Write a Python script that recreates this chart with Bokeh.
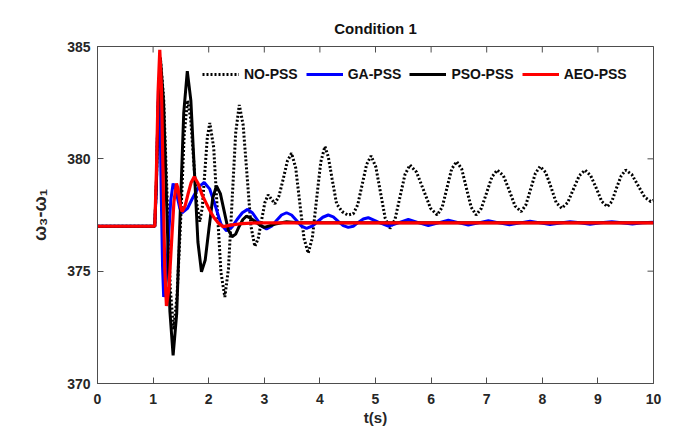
import math
from bokeh.plotting import figure
from bokeh.models import Range1d, FixedTicker, Legend, LegendItem
from bokeh.embed import file_html
from bokeh.resources import INLINE

title_text = "Condition 1"
x_label = "t(s)"
y_label = "ω₃-ω₁"
x_ticks = [0, 1, 2, 3, 4, 5, 6, 7, 8, 9, 10]
y_ticks = [370, 375, 380, 385]
series_names = ["NO-PSS", "GA-PSS", "PSO-PSS", "AEO-PSS"]

t_no = [0.00, 1.00, 1.03, 1.06, 1.09, 1.13,
        1.19, 1.25, 1.31, 1.37,
        1.43, 1.50, 1.56, 1.62,
        1.675, 1.73, 1.785, 1.84,
        1.885, 1.93, 1.975, 2.02,
        2.09, 2.155, 2.22, 2.29,
        2.355, 2.42, 2.485, 2.55,
        2.62, 2.69, 2.76, 2.83,
        2.89, 2.95, 3.01, 3.07,
        3.13, 3.19,
        3.265, 3.34, 3.415, 3.49,
        3.565, 3.64, 3.715, 3.79,
        3.865, 3.94, 4.015, 4.09,
        4.15, 4.22, 4.30, 4.40, 4.50, 4.60,
        4.68, 4.76, 4.84, 4.92,
        5.005, 5.09, 5.175, 5.26,
        5.35, 5.44, 5.53, 5.62,
        5.74, 5.865, 5.99, 6.11,
        6.20, 6.285, 6.37, 6.46,
        6.55, 6.635, 6.72, 6.81,
        6.905, 7.00, 7.095, 7.19,
        7.30, 7.405, 7.51, 7.62,
        7.705, 7.79, 7.875, 7.96,
        8.06, 8.155, 8.25, 8.35,
        8.455, 8.56, 8.665, 8.77,
        8.87, 8.97, 9.07, 9.17,
        9.25, 9.335, 9.42, 9.50,
        9.61, 9.725, 9.84, 9.95, 10.0]
v_no = [377.0, 377.0, 377.0, 379.0, 382.3, 384.5,
        382.7, 378.45, 374.2, 372.4,
        373.9, 377.5, 381.1, 382.6,
        381.8, 379.9, 378.0, 377.2,
        377.85, 379.4, 380.95, 381.6,
        380.5, 377.7, 374.95, 373.85,
        375.1, 378.1, 381.15, 382.4,
        381.5, 379.25, 377.0, 376.1,
        376.45, 377.25, 378.05, 378.4,
        378.2, 378.0,
        378.35, 379.1, 379.9, 380.25,
        379.6, 378.0, 376.45, 375.8,
        376.5, 378.2, 379.85, 380.55,
        380.1, 379.1, 378.0, 377.65, 377.5, 377.55,
        377.95, 378.85, 379.75, 380.13,
        379.65, 378.5, 377.35, 376.9,
        377.3, 378.3, 379.3, 379.73,
        379.4, 378.6, 377.8, 377.5,
        377.85, 378.7, 379.55, 379.88,
        379.55, 378.7, 377.85, 377.5,
        377.8, 378.5, 379.2, 379.5,
        379.25, 378.6, 377.9, 377.65,
        377.95, 378.65, 379.35, 379.66,
        379.4, 378.75, 378.05, 377.8,
        378.05, 378.65, 379.25, 379.5,
        379.25, 378.7, 378.1, 377.87,
        378.1, 378.7, 379.25, 379.5,
        379.3, 378.8, 378.3, 378.1, 378.15]

t_ga = [0.0, 1.0, 1.03, 1.06, 1.08, 1.10,
        1.125, 1.145, 1.17, 1.19,
        1.2325, 1.275, 1.3175, 1.36,
        1.40, 1.44, 1.48, 1.52,
        1.62, 1.72, 1.82, 1.92,
        2.02, 2.12, 2.22, 2.32,
        2.415, 2.51, 2.605, 2.70,
        2.785, 2.87, 2.955, 3.04,
        3.13, 3.22, 3.31, 3.40,
        3.49, 3.58, 3.67, 3.76,
        3.8575, 3.955, 4.0525, 4.15,
        4.24, 4.33, 4.42, 4.51,
        4.60, 4.69, 4.78, 4.87,
        5.05, 5.23, 5.41, 5.59, 5.77, 5.95, 6.13, 6.31, 6.49, 6.67,
        6.85, 7.03, 7.22, 7.41, 7.60, 7.78, 7.96, 8.14, 8.32, 8.50,
        8.68, 8.86, 9.05, 9.25, 9.43, 9.62, 9.80, 10.0]
v_ga = [377.0, 377.0, 377.0, 378.8, 381.3, 383.4,
        381.9, 378.6, 375.2, 373.85,
        374.6, 376.4, 378.15, 378.9,
        378.7, 378.25, 377.8, 377.6,
        377.8, 378.3, 378.75, 378.95,
        378.65, 377.9, 377.1, 376.8,
        376.95, 377.3, 377.6, 377.75,
        377.6, 377.3, 377.0, 376.88,
        377.0, 377.25, 377.5, 377.6,
        377.5, 377.25, 377.0, 376.9,
        377.0, 377.2, 377.4, 377.5,
        377.42, 377.22, 377.03, 376.95,
        377.0, 377.17, 377.32, 377.38,
        377.18, 377.0, 377.15, 377.3, 377.16, 377.03, 377.15, 377.27, 377.16, 377.05,
        377.15, 377.24, 377.15, 377.07, 377.15, 377.22, 377.15, 377.08, 377.14, 377.2,
        377.15, 377.09, 377.15, 377.2, 377.15, 377.1, 377.15, 377.18]

t_pso = [0.0, 1.0, 1.03, 1.06, 1.09, 1.13,
         1.1875, 1.245, 1.3025, 1.36,
         1.424, 1.4875, 1.551, 1.615,
         1.679, 1.7425, 1.806, 1.87,
         1.9375, 2.005, 2.0725, 2.14,
         2.21, 2.28, 2.35, 2.42,
         2.485, 2.55, 2.615, 2.68,
         2.76, 2.84, 2.92, 3.0,
         3.2, 3.4, 3.6, 10.0]
v_pso = [377.0, 377.0, 377.0, 379.0, 382.3, 384.5,
         382.55, 377.9, 373.2, 371.25,
         373.1, 377.6, 382.05, 383.9,
         382.6, 379.45, 376.3, 374.97,
         375.5, 376.9, 378.25, 378.8,
         378.45, 377.65, 376.85, 376.53,
         376.65, 377.0, 377.3, 377.45,
         377.35, 377.2, 377.05, 376.95,
         377.1, 377.2, 377.15, 377.15]

t_aeo = [0.0, 1.0, 1.03, 1.06, 1.09, 1.12,
         1.15, 1.18, 1.21, 1.24,
         1.285, 1.33, 1.375, 1.42,
         1.445, 1.47, 1.495, 1.52,
         1.575, 1.63, 1.685, 1.74,
         1.81, 1.88, 1.95, 2.02, 2.09, 2.17, 2.26, 2.4, 2.6, 2.9, 10.0]
v_aeo = [377.0, 377.0, 377.0, 379.5, 383.0, 384.85,
         383.2, 379.15, 375.1, 373.45,
         374.25, 376.2, 378.1, 378.9,
         378.7, 378.3, 377.85, 377.65,
         377.9, 378.45, 378.95, 379.2,
         378.9, 378.4, 378.05, 377.7, 377.4, 377.15, 376.98, 377.05, 377.12, 377.15, 377.15]

FONT = "Liberation Sans"
AX = "#4d4d4d"
X0, X1 = x_ticks[0], x_ticks[-1]
Y0, Y1 = y_ticks[0], y_ticks[-1]

p = figure(width=667, height=429, output_backend="svg", toolbar_location=None,
           x_range=Range1d(X0, X1), y_range=Range1d(Y0, Y1),
           min_border_left=97, min_border_right=14, min_border_top=46, min_border_bottom=46,
           background_fill_color="white", border_fill_color="white")
p.grid.visible = False
p.outline_line_color = AX
p.outline_line_width = 1

p.title.text = title_text
p.title.align = "center"
p.title.vertical_align = "middle"
p.title.text_font = FONT
p.title.text_font_style = "bold"
p.title.text_font_size = "15px"
p.title.text_color = "#111"
p.title.standoff = 18

p.xaxis.ticker = FixedTicker(ticks=x_ticks)
p.yaxis.ticker = FixedTicker(ticks=y_ticks)
for ax in (p.xaxis[0], p.yaxis[0]):
    ax.axis_line_color = AX
    ax.major_tick_line_color = AX
    ax.major_tick_in = 6
    ax.major_tick_out = 0
    ax.minor_tick_line_color = None
    ax.major_label_text_font = FONT
    ax.major_label_text_font_style = "bold"
    ax.major_label_text_font_size = "14px"
    ax.major_label_text_color = "#262626"
    ax.axis_label_text_font = FONT
    ax.axis_label_text_font_style = "bold"
    ax.axis_label_text_color = "#262626"
p.xaxis.major_label_standoff = 10
p.xaxis.axis_label = x_label
p.xaxis.axis_label_text_font_size = "15px"
p.xaxis.axis_label_standoff = 2
p.yaxis.major_label_standoff = 7
p.yaxis.axis_label = y_label
p.yaxis.axis_label_text_font_size = "18px"
p.yaxis.axis_label_standoff = 14

# inward ticks on the top and right edges of the box
p.scatter(x_ticks, [Y1] * len(x_ticks), marker="dash", angle=math.pi / 2, size=12,
          line_color=AX, line_width=1)
p.scatter([X1] * len(y_ticks), y_ticks, marker="dash", size=12,
          line_color=AX, line_width=1)

r_no = p.line(t_no, v_no, line_color="black", line_width=3, line_dash="2 2")
r_ga = p.line(t_ga, v_ga, line_color="#0000ff", line_width=3)
r_pso = p.line(t_pso, v_pso, line_color="black", line_width=3)
r_aeo = p.line(t_aeo, v_aeo, line_color="#ff0000", line_width=3.2)

legend = Legend(items=[LegendItem(label=n, renderers=[r]) for n, r in
                       zip(series_names, [r_no, r_ga, r_pso, r_aeo])],
                orientation="horizontal", location=(105, 299),
                border_line_alpha=0, background_fill_alpha=0,
                label_text_font=FONT, label_text_font_style="bold",
                label_text_font_size="14px", label_text_color="#111",
                glyph_width=37, glyph_height=20, label_height=20,
                label_standoff=5, spacing=8, padding=0, margin=0)
p.add_layout(legend)

open("out.html", "w").write(file_html(p, INLINE))
